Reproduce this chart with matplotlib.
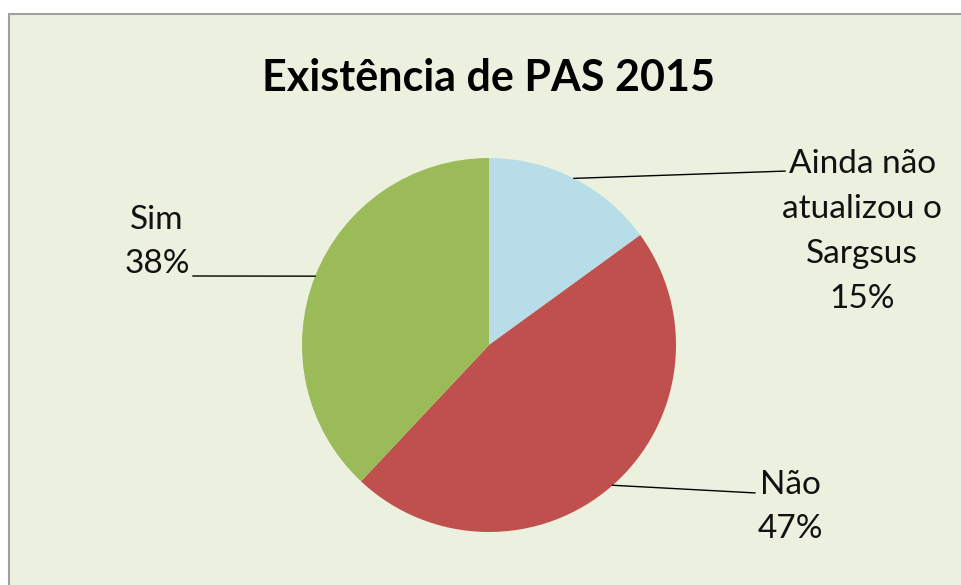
import matplotlib.pyplot as plt
import matplotlib.patches as patches
import numpy as np

# data
labels = ["Ainda não\natualizou o\nSargsus", "Não", "Sim"]
shares = [15, 47, 38]
colors = ['#B7DEE8', '#C0504D', '#9BBB59']
# where the label blocks sit (pie radius = 1)
label_pos = [(1.995, 0.607), (1.61, -0.866), (-1.775, 0.551)]
line_end = [(1.583, 0.930), (1.422, -0.791), (-1.583, 0.369)]

plt.rcParams['font.family'] = ['Lato', 'DejaVu Sans']

fig = plt.figure(figsize=(9.61, 5.85), dpi=100)
fig.patch.set_facecolor('white')
fig.patches.append(patches.Rectangle((9 / 961, -0.02), 1, 1.02 - 14 / 585,
                                     transform=fig.transFigure,
                                     facecolor='#EBF1DE', edgecolor='#A0A0A0',
                                     lw=1.5, zorder=-5))

ax = fig.add_axes([0, 0, 1, 1])
ax.set_zorder(2)

wedges, _ = ax.pie(shares, colors=colors, startangle=90, counterclock=False,
                   radius=1, center=(0, 0), frame=True)
ax.set_xlim(-489 / 187, (961 - 489) / 187)
ax.set_ylim(-240 / 187, 345 / 187)
ax.set_aspect('auto')
ax.axis('off')

for w, lab, val, pos, end in zip(wedges, labels, shares, label_pos, line_end):
    mid = np.deg2rad((w.theta1 + w.theta2) / 2)
    x0, y0 = np.cos(mid), np.sin(mid)
    ax.plot([x0, end[0]], [y0, end[1]], color='black', lw=1)
    ax.text(pos[0], pos[1], f"{lab}\n{val}%", ha='center', va='center',
            fontsize=24, color='#111111', linespacing=1.62)

ax.text(0, (345 - 78) / 187, "Existência de PAS 2015", ha='center',
        va='center', fontsize=31, fontweight='bold', color='black')

fig.savefig('out.png', dpi=100)
